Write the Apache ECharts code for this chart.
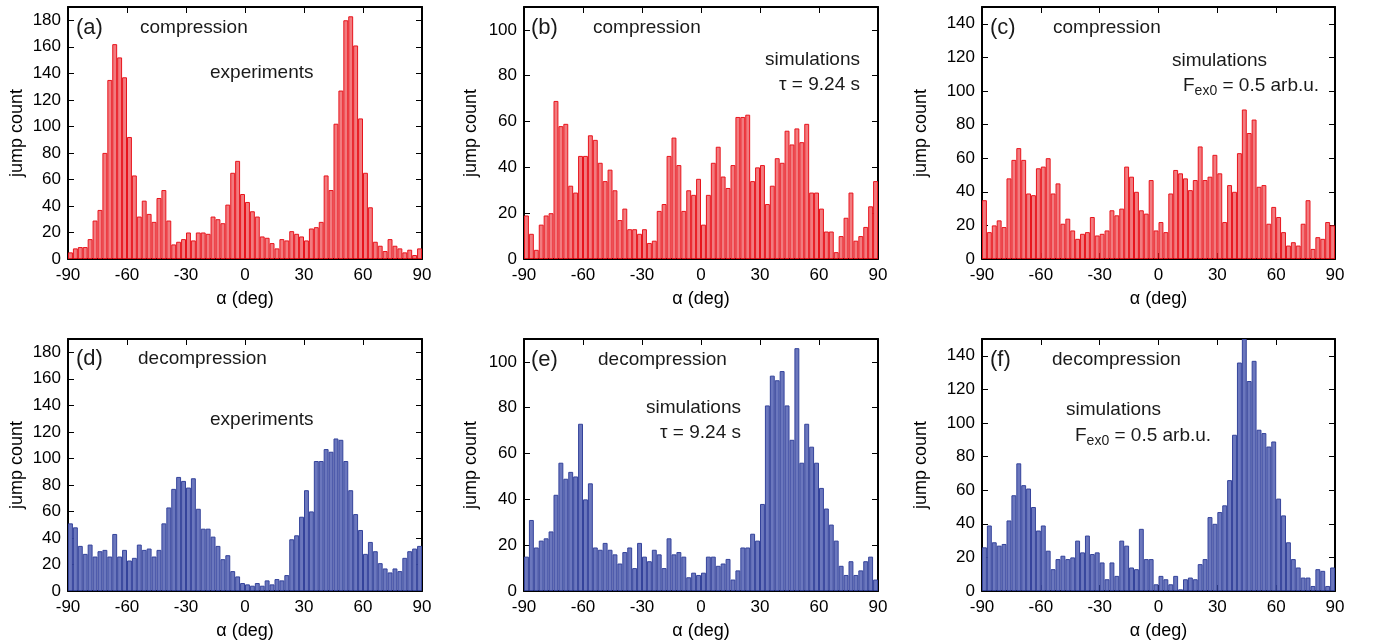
<!DOCTYPE html>
<html><head><meta charset="utf-8">
<script src="https://cdn.jsdelivr.net/npm/echarts@6/dist/echarts.min.js"></script>
<style>html,body{margin:0;padding:0;background:#fff}#c{width:1373px;height:644px}</style>
</head><body><div id="c"></div>
<script>
// ---- data (72 bins of 2.5 deg from -90 to 90) ----
const xTicks = [-90, -60, -30, 0, 30, 60, 90];
const binStarts = [];
for (let a = -90; a < 90; a += 2.5) binStarts.push(a);

const compExp = [5, 8, 9, 9, 15, 29, 37, 80, 135, 162,
  152, 137, 92, 63, 32, 44, 34, 28, 46, 52,
  29, 11, 13, 15, 20, 14, 20, 20, 19, 32,
  30, 27, 41, 65, 74, 49, 43, 36, 32, 17,
  16, 12, 8, 15, 14, 21, 19, 17, 14, 23,
  24, 28, 63, 52, 102, 127, 180, 183, 161, 106,
  65, 39, 13, 10, 6, 15, 10, 8, 5, 7,
  3, 8];
const compSimTau = [19, 11, 4, 15, 19, 20, 69, 58, 59, 32,
  29, 45, 45, 54, 52, 42, 34, 39, 30, 17,
  22, 13, 13, 11, 13, 7, 8, 21, 24, 45,
  53, 41, 21, 30, 28, 35, 15, 28, 42, 49,
  36, 31, 41, 62, 62, 63, 34, 40, 41, 24,
  32, 44, 42, 56, 50, 57, 51, 59, 29, 29,
  22, 12, 12, 3, 10, 18, 29, 8, 10, 14,
  23, 34];
const compSimF = [35, 16, 20, 23, 19, 48, 59, 66, 59, 39,
  38, 54, 55, 60, 39, 45, 21, 24, 17, 12,
  15, 16, 25, 14, 15, 17, 29, 26, 30, 55,
  49, 40, 29, 27, 47, 17, 22, 16, 39, 53,
  51, 48, 41, 47, 67, 47, 49, 62, 51, 22,
  44, 40, 63, 89, 75, 83, 43, 44, 21, 31,
  25, 16, 8, 10, 8, 21, 35, 6, 13, 12,
  22, 20];
const decompExp = [51, 48, 34, 28, 35, 26, 30, 31, 26, 43,
  26, 31, 23, 25, 35, 31, 32, 26, 31, 51,
  63, 77, 86, 83, 78, 85, 62, 47, 47, 41,
  34, 24, 27, 15, 11, 6, 5, 4, 6, 4,
  8, 5, 9, 8, 12, 39, 42, 56, 76, 60,
  98, 98, 107, 105, 115, 114, 98, 76, 58, 46,
  28, 37, 30, 21, 17, 14, 17, 15, 25, 30,
  32, 34];
const decompSimTau = [15, 31, 19, 22, 23, 26, 42, 56, 49, 52,
  50, 73, 40, 47, 19, 18, 21, 18, 16, 12,
  17, 19, 10, 21, 15, 13, 18, 16, 10, 23,
  16, 17, 15, 6, 8, 7, 8, 15, 15, 11,
  12, 14, 5, 9, 19, 19, 25, 22, 38, 81,
  94, 92, 96, 81, 66, 106, 56, 73, 63, 56,
  45, 36, 29, 22, 11, 7, 13, 7, 9, 13,
  15, 5];
const decompSimF = [26, 39, 29, 27, 28, 42, 57, 76, 63, 61,
  50, 36, 39, 24, 13, 19, 21, 19, 20, 30,
  23, 33, 22, 23, 17, 7, 17, 9, 30, 27,
  14, 13, 37, 19, 19, 4, 9, 7, 4, 9,
  1, 7, 8, 7, 16, 19, 44, 40, 47, 51,
  66, 93, 136, 150, 125, 137, 96, 94, 86, 89,
  55, 45, 29, 19, 14, 8, 8, 3, 13, 12,
  3, 14];
const yMaxes = [190, 110, 150, 190, 110, 150];

// ---- styling / layout ----
const FONT = '"Liberation Sans", Arial, Helvetica, sans-serif';
const RED = {color: '#f27b7f', borderColor: '#e8141c'};
const BLUE = {color: '#6b77bd', borderColor: '#34439b'};
const panels = [
  {data: compExp, left: 68, top: 7, width: 354, sty: RED, nameGap: 42},
  {data: compSimTau, left: 524, top: 7, width: 354, sty: RED, nameGap: 44},
  {data: compSimF, left: 982, top: 7, width: 353, sty: RED, nameGap: 52},
  {data: decompExp, left: 68, top: 339, width: 354, sty: BLUE, nameGap: 42},
  {data: decompSimTau, left: 524, top: 339, width: 354, sty: BLUE, nameGap: 44},
  {data: decompSimF, left: 982, top: 339, width: 353, sty: BLUE, nameGap: 52}
];
const PH = 252;
const axLine = {show: true, onZero: false, lineStyle: {color: '#000', width: 2}};
const tick = {show: true, inside: true, length: 6, lineStyle: {color: '#000', width: 1}};
const lbl = {color: '#000', fontSize: 17, fontFamily: FONT};

const grid = [], xAxis = [], yAxis = [], series = [];
panels.forEach((p, i) => {
  grid.push({left: p.left, top: p.top, width: p.width, height: PH});
  xAxis.push({type: 'category', gridIndex: i, data: binStarts, show: false, boundaryGap: true, position: 'bottom'});
  xAxis.push({type: 'value', gridIndex: i, min: xTicks[0], max: xTicks[xTicks.length - 1], interval: 30,
    position: 'bottom', axisLine: axLine, axisTick: tick, splitLine: {show: false},
    axisLabel: Object.assign({margin: 8}, lbl),
    name: 'α (deg)', nameLocation: 'middle', nameGap: 31,
    nameTextStyle: {color: '#000', fontSize: 18, fontFamily: FONT}});
  xAxis.push({type: 'value', gridIndex: i, min: xTicks[0], max: xTicks[xTicks.length - 1], interval: 30,
    position: 'top', axisLine: axLine, axisTick: tick, splitLine: {show: false}, axisLabel: {show: false}});
  yAxis.push({type: 'value', gridIndex: i, min: 0, max: yMaxes[i], interval: 20, position: 'left',
    axisLine: axLine, axisTick: tick, splitLine: {show: false},
    axisLabel: Object.assign({margin: 7, showMaxLabel: false}, lbl),
    name: 'jump count', nameLocation: 'middle', nameGap: p.nameGap,
    nameTextStyle: {color: '#000', fontSize: 18, fontFamily: FONT}});
  yAxis.push({type: 'value', gridIndex: i, min: 0, max: yMaxes[i], interval: 20, position: 'right',
    axisLine: axLine, axisTick: tick, splitLine: {show: false}, axisLabel: {show: false}});
  series.push({type: 'bar', xAxisIndex: 3 * i, yAxisIndex: 2 * i, data: p.data,
    barCategoryGap: '0%', barGap: '0%', silent: true, clip: true,
    itemStyle: {color: p.sty.color, borderColor: p.sty.borderColor, borderWidth: 1}});
});

function txt(t, x, y, size, align) {
  return {type: 'text', z: 100, style: {text: t, x: x, y: y, fill: '#1a1a1a',
    font: size + 'px ' + FONT, textAlign: align || 'left', textVerticalAlign: 'middle'}};
}
function fex(x, y) {
  return {type: 'text', z: 100, style: {text: '{a|F}{b|ex0}{a| = 0.5 arb.u.}', x: x, y: y,
    textAlign: 'left', textVerticalAlign: 'middle', fill: '#1a1a1a',
    rich: {a: {fontSize: 19, fontFamily: FONT, fill: '#1a1a1a'},
           b: {fontSize: 14, fontFamily: FONT, fill: '#1a1a1a', padding: [10, 0, 0, 0]}}}};
}
const graphic = [
  txt('(a)', 76, 28, 22), txt('compression', 140, 28, 19), txt('experiments', 210, 73, 19),
  txt('(b)', 531, 28, 22), txt('compression', 593, 28, 19),
  txt('simulations', 860, 60, 19, 'right'), txt('τ = 9.24 s', 860, 85, 19, 'right'),
  txt('(c)', 990, 28, 22), txt('compression', 1053, 28, 19),
  txt('simulations', 1172, 61, 19), fex(1183, 86),
  txt('(d)', 76, 359, 22), txt('decompression', 138, 359, 19), txt('experiments', 210, 420, 19),
  txt('(e)', 531, 360, 22), txt('decompression', 598, 360, 19),
  txt('simulations', 741, 408, 19, 'right'), txt('τ = 9.24 s', 741, 433, 19, 'right'),
  txt('(f)', 990, 360, 22), txt('decompression', 1052, 360, 19),
  txt('simulations', 1066, 410, 19), fex(1075, 436)
];

const chart = echarts.init(document.getElementById('c'));
chart.setOption({animation: false, backgroundColor: '#fff', grid, xAxis, yAxis, series, graphic});
</script></body></html>
